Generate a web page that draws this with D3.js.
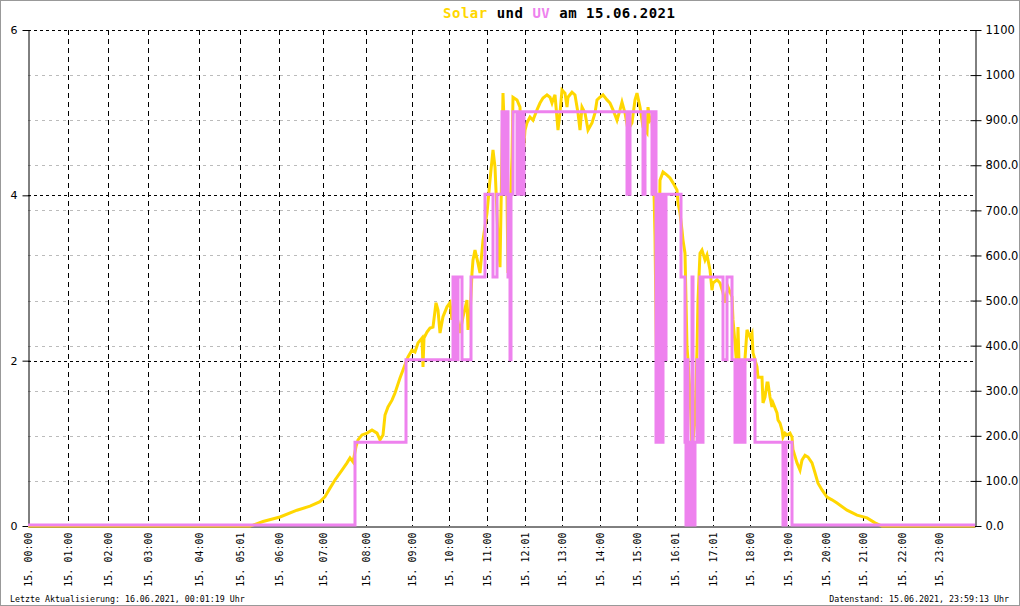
<!DOCTYPE html>
<html><head><meta charset="utf-8">
<script src="https://cdn.jsdelivr.net/npm/d3@7"></script>
<style>body{margin:0;background:#fff;} svg{display:block;}</style>
</head><body>
<svg id="chart" width="1020" height="606"></svg>
<script>
// ---- data ----
const tickLabels = ["15. 00:00","15. 01:00","15. 02:00","15. 03:00","15. 04:00","15. 05:01","15. 06:00","15. 07:00","15. 08:00","15. 09:00","15. 10:00","15. 11:00","15. 12:01","15. 13:00","15. 14:00","15. 15:00","15. 16:01","15. 17:01","15. 18:00","15. 19:00","15. 20:00","15. 21:00","15. 22:00","15. 23:00"];
// record number (log entry index) at which each hour label occurs
const tickRecords = [0,40,80,120,171,212,251,295,338,384,421,459,497,534,572,609,647,685,722,760,798,835,874,911];
const recordCount = 947;
const uvTicks = [0,2,4,6];
const solarTicks = [0,100,200,300,400,500,600,700,800,900,1000,1100];
// solar radiation W/m² : [record, value]
const solar = [[0,0],[222,0],[225,2],[235,10],[252,20],[269,35],[282,44],[292,54],[297,65],[302,84],[307,102],[314,124],[319,140],[322,151],[325,142],[328,176],[330,191],[334,202],[339,206],[344,213],[349,206],[352,191],[355,202],[357,246],[360,264],[364,279],[367,295],[372,328],[375,346],[380,375],[384,390],[387,386],[390,406],[394,417],[395,353],[396,417],[399,430],[402,439],[405,441],[408,495],[410,479],[412,428],[415,464],[419,486],[422,495],[424,457],[427,517],[429,464],[432,428],[435,464],[439,501],[440,435],[442,464],[444,561],[445,590],[447,612],[450,583],[452,561],[455,634],[459,694],[462,767],[465,834],[467,796],[470,641],[472,574],[475,960],[477,840],[479,730],[480,561],[482,694],[484,818],[485,951],[489,945],[492,929],[494,767],[495,818],[497,878],[499,894],[502,907],[505,900],[509,923],[512,938],[515,949],[519,956],[522,951],[524,938],[525,945],[527,956],[530,878],[532,916],[534,967],[537,960],[539,929],[540,951],[544,962],[547,956],[550,916],[552,878],[554,929],[557,916],[560,878],[564,894],[567,916],[569,945],[572,951],[575,956],[579,945],[582,938],[585,923],[589,900],[592,923],[594,940],[597,916],[600,878],[604,894],[607,945],[609,960],[612,929],[615,885],[619,872],[620,929],[622,900],[624,907],[625,840],[627,641],[629,279],[631,592],[632,767],[635,785],[639,778],[642,772],[645,761],[649,745],[650,716],[652,694],[654,656],[655,634],[657,605],[659,397],[660,368],[662,295],[664,169],[667,235],[669,390],[670,501],[672,605],[674,612],[677,590],[679,601],[680,590],[682,568],[684,523],[685,539],[689,546],[692,539],[695,517],[697,495],[700,530],[704,508],[705,457],[707,406],[709,346],[710,441],[712,286],[714,197],[715,308],[719,435],[722,419],[724,428],[725,384],[729,353],[730,330],[734,330],[735,273],[737,286],[739,317],[740,317],[742,286],[744,264],[745,273],[749,251],[750,235],[752,228],[754,213],[755,197],[757,206],[759,202],[762,206],[764,197],[765,169],[769,140],[772,124],[774,146],[777,157],[780,153],[784,140],[787,118],[790,95],[794,80],[799,64],[804,58],[809,51],[819,35],[829,24],[839,18],[847,7],[854,0],[947,0]];
// UV index : [record, value] (step)
const uv = [[0,0],[327,1],[378,2],[425,3],[427,2],[430,3],[434,2],[443,3],[457,4],[465,3],[469,4],[474,5],[476,4],[478,5],[480,3],[482,2],[483,4],[485,5],[489,4],[491,5],[494,4],[496,5],[599,4],[602,5],[615,4],[617,5],[624,4],[626,5],[628,1],[629,4],[630,1],[632,4],[633,1],[635,4],[636,2],[638,4],[653,3],[657,1],[658,0],[659,2],[660,0],[661,1],[662,0],[664,3],[665,0],[667,1],[669,2],[671,1],[672,3],[673,1],[675,3],[695,2],[699,3],[704,2],[707,1],[709,2],[711,1],[713,2],[714,1],[717,2],[727,1],[755,0],[758,1],[764,0],[947,0]];

// ---- chart ----
const svg = d3.select("#chart");
const L = 28, R = 975, T = 30, B = 526;
const x = d3.scaleLinear().domain([0, recordCount]).range([L, R]);
const yUV = d3.scaleLinear().domain([0, 6]).range([B, T]);
const ySol = d3.scaleLinear().domain([0, 1100]).range([B, T]);
const mono = "'DejaVu Sans Mono', monospace";
const sans = "'DejaVu Sans', Verdana, sans-serif";

// gray grid (right axis)
svg.append("g").selectAll("line").data(solarTicks.filter(d => d > 0 && d < 1100)).join("line")
  .attr("x1", L).attr("x2", R).attr("y1", d => Math.round(ySol(d)) + 0.5).attr("y2", d => Math.round(ySol(d)) + 0.5)
  .attr("stroke", "#bbb").attr("stroke-dasharray", "3,4");
// black horizontal grid (left axis)
svg.append("g").selectAll("line").data(uvTicks.filter(d => d > 0)).join("line")
  .attr("x1", L).attr("x2", R).attr("y1", d => Math.round(yUV(d)) + 0.5).attr("y2", d => Math.round(yUV(d)) + 0.5)
  .attr("stroke", "#000").attr("stroke-dasharray", "3,3");
// vertical grid
svg.append("g").selectAll("line").data(tickRecords.filter(d => d > 0)).join("line")
  .attr("x1", d => Math.round(x(d)) + 0.5).attr("x2", d => Math.round(x(d)) + 0.5).attr("y1", T).attr("y2", B)
  .attr("stroke", "#000").attr("stroke-dasharray", "5,4");

// axes
const ax = svg.append("g").attr("transform", `translate(0,${B + 0.5})`)
  .call(d3.axisBottom(x).tickValues(tickRecords).tickFormat((d, i) => tickLabels[i]).tickSize(0).tickSizeOuter(0));
ax.selectAll("text").attr("transform", "rotate(-90)").attr("x", -6).attr("y", 0).attr("dy", "0.35em")
  .style("text-anchor", "end").style("font-family", mono).style("font-size", "10px").attr("fill", "#000");

const al = svg.append("g").attr("transform", `translate(${L + 0.5},0)`)
  .call(d3.axisLeft(yUV).tickValues(uvTicks).tickFormat(d3.format("d")).tickSize(6).tickSizeOuter(0).tickPadding(5));
al.selectAll("text").style("font-family", sans).style("font-size", "11px");
al.selectAll(".tick line").attr("x2", -6).attr("x1", 2);

const solarFmt = d => d >= 1000 ? d3.format("d")(d) : d3.format(".1f")(d);
const ar = svg.append("g").attr("transform", `translate(${R + 0.5},0)`)
  .call(d3.axisRight(ySol).tickValues(solarTicks).tickFormat(solarFmt).tickSize(6).tickSizeOuter(0).tickPadding(4));
ar.selectAll("text").style("font-family", sans).style("font-size", "11.5px");
ar.selectAll(".tick line").attr("x1", -5).attr("x2", 6);
svg.selectAll(".domain").attr("stroke", "#000");

// lines
svg.append("path").datum(solar)
  .attr("d", d3.line().x(d => x(d[0])).y(d => ySol(d[1])))
  .attr("fill", "none").attr("stroke", "#FFD700").attr("stroke-width", 3);
svg.append("path").datum(uv)
  .attr("d", d3.line().curve(d3.curveStepAfter).x(d => x(d[0])).y(d => yUV(d[1]) - 1))
  .attr("fill", "none").attr("stroke", "#EE82EE").attr("stroke-width", 3);

// title
const title = svg.append("text").attr("x", 559).attr("y", 18).attr("text-anchor", "middle")
  .attr("textLength", 232).attr("lengthAdjust", "spacing")
  .style("font-family", mono).style("font-size", "14px").style("font-weight", "bold");
title.append("tspan").attr("fill", "#FFD700").text("Solar");
title.append("tspan").attr("fill", "#000").text(" und ");
title.append("tspan").attr("fill", "#EE82EE").text("UV");
title.append("tspan").attr("fill", "#000").text(" am 15.06.2021");

// footer
svg.append("text").attr("x", 10).attr("y", 602).style("font-family", mono).style("font-size", "8.3px")
  .text("Letzte Aktualisierung: 16.06.2021, 00:01:19 Uhr");
svg.append("text").attr("x", 1009).attr("y", 602).attr("text-anchor", "end").style("font-family", mono).style("font-size", "8.3px")
  .text("Datenstand: 15.06.2021, 23:59:13 Uhr");

// frame
svg.append("rect").attr("x", 0.5).attr("y", 0.5).attr("width", 1019).attr("height", 605)
  .attr("fill", "none").attr("stroke", "#999");
</script>
</body></html>
